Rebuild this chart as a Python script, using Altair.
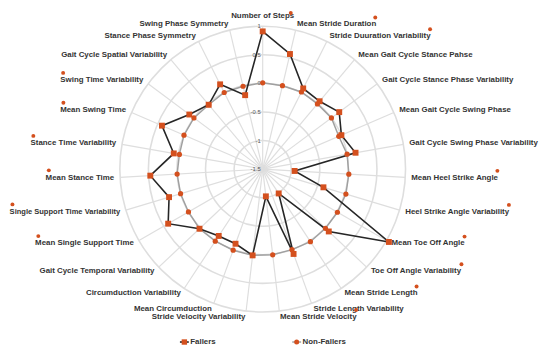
import math
import altair as alt
import pandas as pd

# ---------------- data ----------------
categories = [
    "Number of Steps", "Mean Stride Duration", "Stride Duuration Variability",
    "Mean Gait Cycle Stance Pahse", "Gait Cycle Stance Phase Variability",
    "Mean Gait Cycle Swing Phase", "Gait Cycle Swing Phase Variability",
    "Mean Heel Strike Angle", "Heel Strike Angle Variability", "Mean Toe Off Angle",
    "Toe Off Angle Variability", "Mean Stride Length", "Stride Length Variability",
    "Mean Stride Velocity", "Stride Velocity Variability", "Mean Circumduction",
    "Circumduction Variability", "Gait Cycle Temporal Variability",
    "Mean Single Support Time", "Single Support Time Variability", "Mean Stance Time",
    "Stance Time Variability", "Mean Swing Time", "Swing Time Variability",
    "Gait Cycle Spatial Variability", "Stance Phase Symmetry", "Swing Phase Symmetry",
]
fallers = [0.91, 0.57, 0.08, 0.05, 0.17, 0.00, 0.15, -0.94, -0.39, 1.05,
           0.09, -0.99, 0.08, -1.02, 0.02, -0.11, -0.10, 0.02, 0.41, 0.21,
           0.47, 0.08, 0.42, 0.10, -0.03, 0.16, -0.17]
non_fallers = [0.01, 0.00, 0.01, -0.01, 0.00, -0.05, 0.00, 0.01, 0.02, 0.01,
               0.01, 0.02, 0.00, 0.01, 0.02, 0.01, 0.01, 0.02, 0.00, 0.00,
               0.00, -0.02, 0.00, 0.00, -0.03, 0.00, -0.01]
significant = [1, 1, 1, 0, 0, 0, 0, 1, 1, 1, 1, 1, 0, 1, 0, 0, 0, 0, 1, 1,
               1, 1, 1, 1, 0, 0, 0]
tick_values = [1, 0.5, 0, -0.5, -1, -1.5]
tick_labels = ["1", "0.5", "0", "-0.5", "-1", "-1.5"]
series_names = ["Fallers", "Non-Fallers"]

# ---------------- layout / style ----------------
N = len(categories)
W, H = 542, 337
CX, CY = 258.5, 161.0
UNIT = 58.0
VMIN, VMAX = -1.5, 1.0
LABEL_R = 151.0
ORANGE = "#D4501E"
TEXT = "#333333"
GRID = "#dedede"
FONT = "Liberation Sans"
FS = 8

# approximate Arial Bold advance widths (per 1000 em) for star placement
AW = {" ": 278, "-": 333}
AW.update(dict(zip("ABCDEFGHIJKLMNOPQRSTUVWXYZ",
                   [722, 722, 722, 722, 667, 611, 778, 722, 278, 556, 722, 611, 833,
                    722, 778, 667, 778, 722, 667, 611, 722, 667, 944, 667, 667, 611])))
AW.update(dict(zip("abcdefghijklmnopqrstuvwxyz",
                   [556, 611, 556, 611, 556, 333, 611, 611, 278, 278, 556, 278, 889,
                    611, 611, 611, 611, 389, 556, 333, 611, 556, 778, 556, 556, 500])))


def text_w(s, fs=FS):
    return sum(AW.get(c, 556) for c in s) / 1000.0 * fs


def ang(i):
    return 2 * math.pi * i / N


def rad(v):
    return (v - VMIN) * UNIT


xs = alt.Scale(domain=[-CX, W - CX], range=[0, W], nice=False, zero=False)
ys = alt.Scale(domain=[-(H - CY), CY], range=[H, 0], nice=False, zero=False)


def X(f="x"):
    return alt.X(f"{f}:Q", scale=xs, axis=None)


def Y(f="y"):
    return alt.Y(f"{f}:Q", scale=ys, axis=None)


# grid circles
grid_df = pd.DataFrame({"v": tick_values[:-1]})
grid_df["x"] = 0.0
grid_df["y"] = 0.0
grid_df["s"] = [(2 * rad(v)) ** 2 for v in grid_df["v"]]
grid = alt.Chart(grid_df).mark_point(shape="circle", filled=False, stroke=GRID,
                                     strokeWidth=1.6, opacity=1).encode(
    x=X(), y=Y(), size=alt.Size("s:Q", scale=None, legend=None))

# spokes
sp_df = pd.DataFrame({"i": range(N)})
sp_df["x"] = 0.0
sp_df["y"] = 0.0
sp_df["x2"] = [rad(VMAX) * math.sin(ang(i)) for i in sp_df["i"]]
sp_df["y2"] = [rad(VMAX) * math.cos(ang(i)) for i in sp_df["i"]]
spokes = alt.Chart(sp_df).mark_rule(color=GRID, strokeWidth=1.2).encode(
    x=X(), y=Y(), x2="x2:Q", y2="y2:Q")

# tick labels
tk_df = pd.DataFrame({"v": tick_values, "t": tick_labels})
tk_df["x"] = -2.0
tk_df["y"] = [rad(v) for v in tick_values]
ticks = alt.Chart(tk_df).mark_text(align="right", baseline="middle", fontSize=6,
                                   font=FONT, color="#555555").encode(
    x=X(), y=Y(), text="t:N")

# data series
rows = []
for name, vals in zip(series_names, [fallers, non_fallers]):
    for i, v in enumerate(vals + [vals[0]]):
        a = ang(i % N)
        rows.append({"series": name, "order": i, "v": v,
                     "x": rad(v) * math.sin(a), "y": rad(v) * math.cos(a),
                     "last": i == N})
pts = pd.DataFrame(rows)

line_f = alt.Chart(pts[pts.series == "Fallers"]).mark_line(
    color="#262626", strokeWidth=1.6).encode(x=X(), y=Y(), order="order:Q")
line_n = alt.Chart(pts[pts.series == "Non-Fallers"]).mark_line(
    color="#a0a0a0", strokeWidth=1.5).encode(x=X(), y=Y(), order="order:Q")
pt_n = alt.Chart(pts[(pts.series == "Non-Fallers") & (~pts["last"])]).mark_point(
    shape="circle", filled=True, size=28, color=ORANGE, opacity=1).encode(x=X(), y=Y())
pt_f = alt.Chart(pts[(pts.series == "Fallers") & (~pts["last"])]).mark_point(
    shape="square", filled=True, size=36, color=ORANGE, opacity=1).encode(x=X(), y=Y())

# category labels and significance stars
lab = []
for i, c in enumerate(categories):
    a = ang(i)
    r = LABEL_R + (4 if i == 0 else 0)
    lx, ly = r * math.sin(a), r * math.cos(a)
    fs = FS
    w = text_w(c, fs)
    if i == 0:
        side, sx, sy = "center", lx + w / 2 - 3.5, min(ly + 7.5, CY - 2.5)
    elif i <= N // 2:
        avail = (W - CX) - lx - 1
        if w > avail:
            fs = FS * avail / w
            w = avail
        side, sx, sy = "left", lx + w - 1.0, ly + 7.0
    else:
        avail = lx + CX - 1
        if w > avail:
            fs = FS * avail / w
            w = avail
        side, sx, sy = "right", lx - w + 3.5, ly + 7.5
    lab.append({"label": c, "x": lx, "y": ly, "side": side, "fs": fs,
                "sx": sx, "sy": sy, "sig": significant[i]})
lab_df = pd.DataFrame(lab)

label_layers = []
for side in ["center", "left", "right"]:
    label_layers.append(
        alt.Chart(lab_df[lab_df.side == side]).mark_text(
            align=side, baseline="middle", font=FONT, fontWeight="bold",
            color=TEXT).encode(x=X(), y=Y(), text="label:N",
                               size=alt.Size("fs:Q", scale=None, legend=None)))

stars = alt.Chart(lab_df[lab_df.sig == 1]).mark_point(
    shape="circle", filled=True, size=16, color=ORANGE, opacity=1).encode(
    x=X("sx"), y=Y("sy"))

# legend (drawn manually at the bottom)
leg_y = -(H - CY) + 0.5
leg = pd.DataFrame({"series": series_names, "k": [0, 1]})
leg["mx"] = -79.5 + leg["k"] * 114.0
leg["x1"] = leg["mx"] - 4.5
leg["x2"] = leg["mx"] + 4.5
leg["tx"] = leg["mx"] + 6.0
leg["y"] = leg_y
leg_line_f = alt.Chart(leg[leg.k == 0]).mark_rule(color="#262626", strokeWidth=1.6).encode(
    x=X("x1"), x2="x2:Q", y=Y())
leg_line_n = alt.Chart(leg[leg.k == 1]).mark_rule(color="#a0a0a0", strokeWidth=1.5).encode(
    x=X("x1"), x2="x2:Q", y=Y())
leg_pf = alt.Chart(leg[leg.k == 0]).mark_point(shape="square", filled=True, size=30,
                                               color=ORANGE, opacity=1).encode(x=X("mx"), y=Y())
leg_pn = alt.Chart(leg[leg.k == 1]).mark_point(shape="circle", filled=True, size=26,
                                               color=ORANGE, opacity=1).encode(x=X("mx"), y=Y())
leg_t = alt.Chart(leg).mark_text(align="left", baseline="middle", font=FONT,
                                 fontWeight="bold", fontSize=FS, color=TEXT).encode(
    x=X("tx"), y=Y(), text="series:N")

chart = alt.layer(
    grid, spokes, ticks, line_n, line_f, pt_n, pt_f, *label_layers, stars,
    leg_line_f, leg_line_n, leg_pf, leg_pn, leg_t,
).properties(
    width=W, height=H, padding=0,
    autosize=alt.AutoSizeParams(type="none"),
).configure_view(stroke="transparent")

chart.save("out.html", embed_options={"renderer": "svg", "actions": False})
